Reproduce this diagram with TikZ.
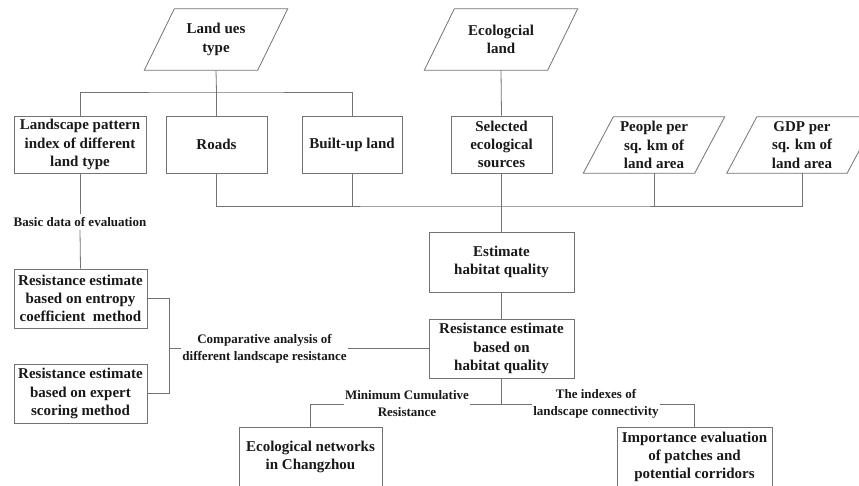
\documentclass[tikz,border=0pt]{standalone}
\usepackage{fontspec}
\setmainfont{Liberation Serif}
\begin{document}
\begin{tikzpicture}[x=1pt,y=-1pt,
  ln/.style={draw=black!55, line width=0.8pt},
  box/.style={draw=black!55, line width=0.8pt, fill=white, inner sep=0pt, align=center,
    font=\fontsize{15}{18.3}\selectfont\bfseries, text=black!90},
  pbox/.style={inner sep=0pt, align=center, font=\fontsize{15}{18.3}\selectfont\bfseries, text=black!90},
  lab/.style={fill=white, inner xsep=1pt, inner ysep=3pt, align=center,
    font=\fontsize{13}{17}\selectfont\bfseries, text=black!90}
]
\useasboundingbox (0,0) rectangle (859,485);

% parallelogram inputs
\node[pbox, minimum width=113pt, minimum height=61pt] (landues) at (216,39.5) {Land ues\\type};
\node[pbox, minimum width=123pt, minimum height=61pt] (ecoland) at (501,39.5) {Ecologcial\\land};
\node[pbox, minimum width=111pt, minimum height=56pt] (people) at (654,145) {People per\\sq. km of\\land area};
\node[pbox, minimum width=120pt, minimum height=56pt] (gdp) at (802,145) {GDP per\\sq. km of\\land area};
\foreach \n in {landues,ecoland,people,gdp}
  \draw[ln] ([xshift=-15pt]\n.south west) -- ([xshift=15pt]\n.north west)
    -- ([xshift=15pt]\n.north east) -- ([xshift=-15pt]\n.south east) -- cycle;

% second row
\node[box, minimum width=132pt, minimum height=57pt] (landscape) at (80,144.5) {Landscape pattern\\index of different\\land type};
\node[box, minimum width=101pt, minimum height=57pt] (roads) at (216.5,144.5) {Roads};
\node[box, minimum width=100pt, minimum height=57pt] (builtup) at (352,144.5) {Built-up land};
\node[box, minimum width=101pt, minimum height=57pt] (selected) at (501.5,144.5) {Selected\\ecological\\sources};

% middle
\node[lab] (basic) at (80,222) {Basic data of evaluation};
\node[box, minimum width=133pt, minimum height=59pt] (entropy) at (80.5,298.5) {Resistance estimate\\based on entropy\\coefficient\ \ method};
\node[box, minimum width=133pt, minimum height=59pt] (expert) at (80.5,393.5) {Resistance estimate\\based on expert\\scoring method};
\node[box, minimum width=145pt, minimum height=60pt] (hqe) at (501.5,262) {Estimate\\habitat quality};
\node[box, minimum width=145pt, minimum height=59pt] (hqr) at (501.5,348.5) {Resistance estimate\\based on\\habitat quality};
\node[lab, inner ysep=1pt] (comp) at (264.5,348.5) {Comparative analysis of\\different landscape resistance};

% bottom
\node[lab, inner ysep=1pt] (minl) at (407,404) {Minimum Cumulative\\Resistance};
\node[lab, inner ysep=1pt] (idx) at (596,404) {The indexes of\\landscape connectivity};
\node[box, minimum width=143pt, minimum height=60pt] (econet) at (310.5,457) {Ecological networks\\in Changzhou};
\node[box, minimum width=155pt, minimum height=60pt] (imp) at (694.5,457) {Importance evaluation\\of patches and\\potential corridors};

% connectors top
\coordinate (j1) at (216.5,92);
\draw[ln] (landues.south) -- (j1);
\draw[ln] (landscape.north) |- (j1) -| (builtup.north);
\draw[ln] (j1) -- (roads.north);
\draw[ln] (ecoland.south) -- (selected.north);

% connectors collecting to habitat quality
\coordinate (j2) at (501.5,206);
\draw[ln] (roads.south) |- (j2) -| (gdp.south);
\draw[ln] (builtup.south) -- (builtup.south|-j2);
\draw[ln] (people.south) -- (people.south|-j2);
\draw[ln] (selected.south) -- (hqe.north);
\draw[ln] (hqe.south) -- (hqr.north);

% left column
\draw[ln] (landscape.south) -- (basic.north);
\draw[ln] (basic.south) -- (entropy.north);
\coordinate (j3) at (169.5,348.5);
\draw[ln] (entropy.east) -| (j3) |- (expert.east);
\draw[ln] (j3) -- (j3-|comp.west);
\draw[ln] (comp.east) -- (comp.east-|hqr.west);

% bottom
\draw[ln] (hqr.south) -- (hqr.south|-minl.east);
\draw[ln] (minl.east) -- (minl.east-|idx.west);
\draw[ln] (minl.west) -| (econet.north);
\draw[ln] (idx.east) -| (imp.north);
\end{tikzpicture}
\end{document}
